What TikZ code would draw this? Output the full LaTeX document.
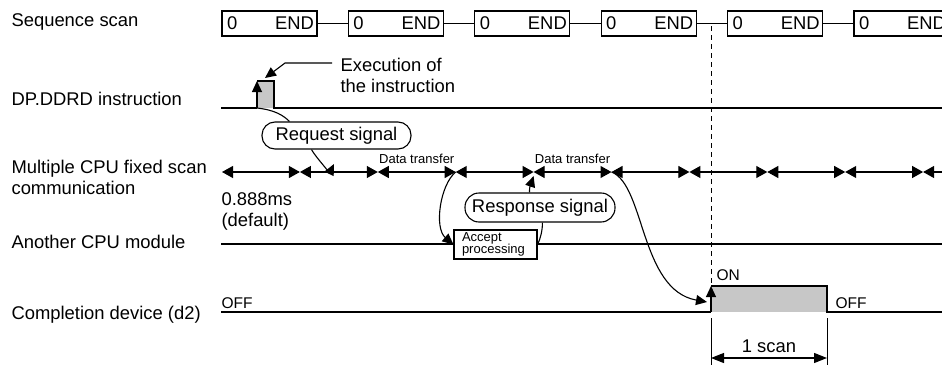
\documentclass[tikz,border=0pt]{standalone}
\usepackage{fontspec}
\setmainfont{Liberation Sans}
\usetikzlibrary{arrows.meta, positioning, calc}

\begin{document}
\begin{tikzpicture}[
        x=1pt, y=-1pt,
        line width=1.1pt,
        font=\fontsize{18.4}{21}\selectfont,
        rowlabel/.style={anchor=base west, inner sep=0pt},
        twoline/.style={anchor=north west, inner sep=0pt, align=left},
        scanbox/.style={draw, minimum width=95pt, minimum height=25pt, inner sep=0pt},
        scantext/.style={inner sep=0pt},
        sigbox/.style={draw, rounded corners=13pt, minimum height=27pt, inner sep=0pt},
        accbox/.style={draw, fill=white, font=\fontsize{13}{12.5}\selectfont, align=left,
            text width=67pt, inner xsep=8pt, inner ysep=2pt, minimum height=29pt},
        smalltext/.style={font=\fontsize{13}{15}\selectfont, inner sep=0pt, anchor=base},
        statetext/.style={font=\fontsize{15.5}{18}\selectfont, anchor=base west, inner sep=0pt},
        pulse/.style={fill=black!22, draw=none},
        bowtie/.style={{Triangle[length=11pt,width=12pt]}-{Triangle[length=11pt,width=12pt]}},
        dimline/.style={line width=0.9pt},
        >={Triangle[length=11pt,width=10pt]}
    ]
    \useasboundingbox (0,0) rectangle (942,364);

    % ---- sequence scan ----
    \node[rowlabel] (lseq) at (11,27) {Sequence scan};
    \foreach \i in {0,...,5} {
        \node[scanbox] (s\i) at ({269.5+126.4*\i},23.5) {};
        \node[scantext, anchor=west] at ([xshift=5pt]s\i.west) {0};
        \node[scantext, anchor=east] at ([xshift=-3pt]s\i.east) {END};
    }
    \foreach \i [count=\j from 1] in {0,...,4}
        \draw (s\i.east) -- (s\j.west);

    % ---- DP.DDRD instruction ----
    \node[rowlabel] (ldp) at (11,105.5) {DP.DDRD instruction};
    \coordinate (dp0) at (221,108);
    \coordinate (dp1) at (257,108);
    \coordinate (dp2) at (257,81);
    \coordinate (dp3) at (274,81);
    \coordinate (dp4) at (274,108);
    \coordinate (dp5) at (942,108);
    \fill[pulse] (dp2) rectangle (dp4);
    \draw (dp0) -- (dp1);
    \draw[->] (dp1) -- (dp2);
    \draw (dp2) -- (dp3) -- (dp4) -- (dp5);

    \node[twoline] (exec) at (340,58) {Execution of\\the instruction};
    \coordinate (extip) at (265,78);
    \draw[->] ($(exec.north west)+(-8,5)$) -- ++(-47,0) -- (extip);

    % ---- multiple CPU fixed scan communication ----
    \node[twoline] (lcomm) at (11,160) {Multiple CPU fixed scan\\communication};
    \node[twoline] (lms) at (221,192) {0.888ms\\(default)};
    \foreach \i in {0,...,9}
        \coordinate (t\i) at ({222+77.9*\i},172);
    \coordinate (tend) at (942,172);
    \foreach \i [count=\j from 1] in {0,...,8}
        \draw[bowtie] (t\i) -- (t\j);
    \draw[{Triangle[length=11pt,width=12pt]}-] (t9) -- (tend);
    \node[smalltext] at ($(t2)!0.5!(t3)+(0,-9)$) {Data transfer};
    \node[smalltext] at ($(t4)!0.5!(t5)+(0,-9)$) {Data transfer};

    % ---- request signal ----
    \node[sigbox, minimum width=149pt] (req) at (336.5,135.5) {Request signal};
    \coordinate (rqtip) at (334,164);
    \draw (dp1) .. controls +(18,2) and +(-6,-6) .. ($(req.north west)+(28,0)$);
    \draw[->] ($(req.south west)+(50,0)$) .. controls +(6,10) and +(-4,8) .. (rqtip);

    % ---- another CPU module ----
    \node[rowlabel] (lcpu) at (11,248.5) {Another CPU module};
    \coordinate (ac0) at (221,244);
    \coordinate (ac1) at (942,244);
    \draw (ac0) -- (ac1);
    \node[accbox] (acc) at (495.5,244.5) {Accept\\processing};
    \draw[->] (t3) .. controls (440,185) and (434,228) .. (acc.west);

    % ---- response signal ----
    \node[sigbox, minimum width=150pt, minimum height=29pt, rounded corners=14pt] (resp)
        at (540,207.5) {Response signal};
    \draw[->] ($(resp.north west)+(65,0)$) .. controls +(0,-8) and +(-2,6) .. ($(t4)+(0,4)$);
    \draw ($(resp.south west)+(78,0)$) .. controls +(0,8) and +(3,-6) .. (acc.east);

    % ---- completion device ----
    \node[rowlabel] (ldev) at (11,319.5) {Completion device (d2)};
    \coordinate (cd0) at (221,312);
    \coordinate (cdon) at (711,312);
    \coordinate (cdtop1) at (711,286);
    \coordinate (cdtop2) at (827,286);
    \coordinate (cdoff) at (827,312);
    \coordinate (cd5) at (942,312);
    \fill[pulse] (cdtop1) rectangle (cdoff);
    \draw (cd0) -- (cdon);
    \draw[->] (cdon) -- (cdtop1);
    \draw (cdtop1) -- (cdtop2) -- (cdoff) -- (cd5);
    \node[statetext] at (221,308) {OFF};
    \node[statetext] at (835,308) {OFF};
    \node[statetext] at (716,280) {ON};
    \draw[->] (t5) .. controls (645,185) and (640,290) .. ($(cdon)+(-4,-10)$);

    % ---- dashed marker ----
    \draw[dashed, dash pattern=on 5pt off 4pt, line width=0.9pt] (711,26) -- (cdtop1);

    % ---- 1 scan ----
    \draw[dimline] ($(cdon)+(0,6)$) -- ++(0,52);
    \draw[dimline] ($(cdoff)+(0,6)$) -- ++(0,52);
    \draw[{Triangle[length=13pt,width=10pt]}-{Triangle[length=13pt,width=10pt]}]
        ($(cdon)+(0,46)$) -- node[above=5pt, inner sep=0pt] {1 scan} ($(cdoff)+(0,46)$);

\end{tikzpicture}
\end{document}
